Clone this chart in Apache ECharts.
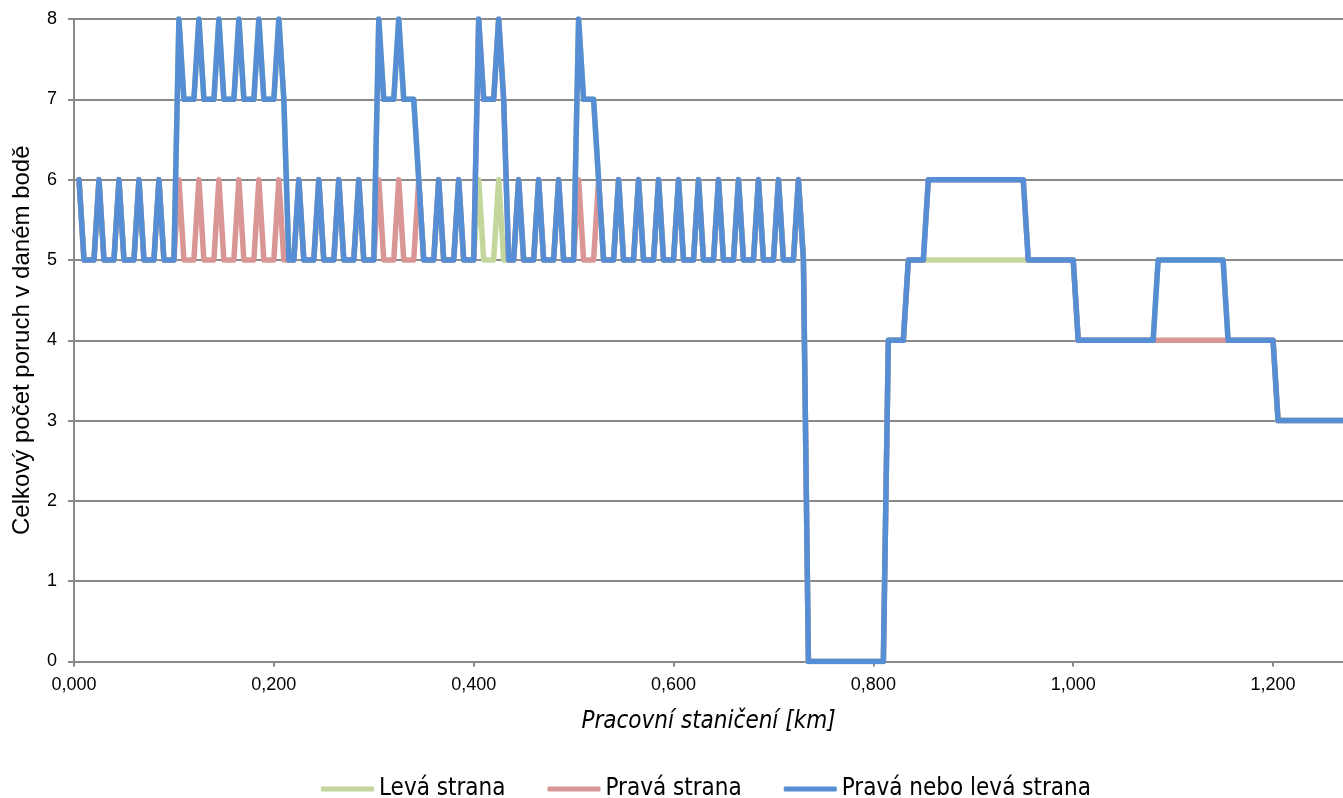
<!DOCTYPE html>
<html>
<head>
<meta charset="utf-8">
<script src="https://cdn.jsdelivr.net/npm/echarts@6/dist/echarts.min.js"></script>
<style>
html,body{margin:0;padding:0;background:#fff;}
#chart{width:1343px;height:798px;}
</style>
</head>
<body>
<div id="chart"></div>
<script>
// Working stationing [km]
const stations = [
0.005,0.010,0.015,0.020,0.025,0.030,0.035,0.040,0.045,0.050,
0.055,0.060,0.065,0.070,0.075,0.080,0.085,0.090,0.095,0.100,
0.105,0.110,0.115,0.120,0.125,0.130,0.135,0.140,0.145,0.150,
0.155,0.160,0.165,0.170,0.175,0.180,0.185,0.190,0.195,0.200,
0.205,0.210,0.215,0.220,0.225,0.230,0.235,0.240,0.245,0.250,
0.255,0.260,0.265,0.270,0.275,0.280,0.285,0.290,0.295,0.300,
0.305,0.310,0.315,0.320,0.325,0.330,0.335,0.340,0.345,0.350,
0.355,0.360,0.365,0.370,0.375,0.380,0.385,0.390,0.395,0.400,
0.405,0.410,0.415,0.420,0.425,0.430,0.435,0.440,0.445,0.450,
0.455,0.460,0.465,0.470,0.475,0.480,0.485,0.490,0.495,0.500,
0.505,0.510,0.515,0.520,0.525,0.530,0.535,0.540,0.545,0.550,
0.555,0.560,0.565,0.570,0.575,0.580,0.585,0.590,0.595,0.600,
0.605,0.610,0.615,0.620,0.625,0.630,0.635,0.640,0.645,0.650,
0.655,0.660,0.665,0.670,0.675,0.680,0.685,0.690,0.695,0.700,
0.705,0.710,0.715,0.720,0.725,0.730,0.735,0.740,0.745,0.750,
0.755,0.760,0.765,0.770,0.775,0.780,0.785,0.790,0.795,0.800,
0.805,0.810,0.815,0.820,0.825,0.830,0.835,0.840,0.845,0.850,
0.855,0.860,
0.950,0.955,1.000,1.005,1.080,1.085,1.150,1.155,1.200,1.205,1.270
];

// Levá strana (green)
const leftSide = [
6,5,5,5,6,5,5,5,6,5,
5,5,6,5,5,5,6,5,5,5,
8,7,7,7,8,7,7,7,8,7,
7,7,8,7,7,7,8,7,7,7,
8,7,5,5,6,5,5,5,6,5,
5,5,6,5,5,5,6,5,5,5,
8,7,7,7,8,7,7,7,6,5,
5,5,6,5,5,5,6,5,5,5,
6,5,5,5,6,5,5,5,6,5,
5,5,6,5,5,5,6,5,5,5,
8,7,7,7,6,5,5,5,6,5,
5,5,6,5,5,5,6,5,5,5,
6,5,5,5,6,5,5,5,6,5,
5,5,6,5,5,5,6,5,5,5,
6,5,5,5,6,5,0,0,0,0,
0,0,0,0,0,0,0,0,0,0,
0,0,4,4,4,4,5,5,5,5,
5,5,
5,5,5,4,4,5,5,4,4,3,3
];

// Pravá strana (red)
const rightSide = [
6,5,5,5,6,5,5,5,6,5,
5,5,6,5,5,5,6,5,5,5,
6,5,5,5,6,5,5,5,6,5,
5,5,6,5,5,5,6,5,5,5,
6,5,5,5,6,5,5,5,6,5,
5,5,6,5,5,5,6,5,5,5,
6,5,5,5,6,5,5,5,6,5,
5,5,6,5,5,5,6,5,5,5,
8,7,7,7,8,7,5,5,6,5,
5,5,6,5,5,5,6,5,5,5,
6,5,5,5,6,5,5,5,6,5,
5,5,6,5,5,5,6,5,5,5,
6,5,5,5,6,5,5,5,6,5,
5,5,6,5,5,5,6,5,5,5,
6,5,5,5,6,5,0,0,0,0,
0,0,0,0,0,0,0,0,0,0,
0,0,4,4,4,4,5,5,5,5,
6,6,
6,5,5,4,4,4,4,4,4,3,3
];

// Pravá nebo levá strana (blue)
const eitherSide = [
6,5,5,5,6,5,5,5,6,5,
5,5,6,5,5,5,6,5,5,5,
8,7,7,7,8,7,7,7,8,7,
7,7,8,7,7,7,8,7,7,7,
8,7,5,5,6,5,5,5,6,5,
5,5,6,5,5,5,6,5,5,5,
8,7,7,7,8,7,7,7,6,5,
5,5,6,5,5,5,6,5,5,5,
8,7,7,7,8,7,5,5,6,5,
5,5,6,5,5,5,6,5,5,5,
8,7,7,7,6,5,5,5,6,5,
5,5,6,5,5,5,6,5,5,5,
6,5,5,5,6,5,5,5,6,5,
5,5,6,5,5,5,6,5,5,5,
6,5,5,5,6,5,0,0,0,0,
0,0,0,0,0,0,0,0,0,0,
0,0,4,4,4,4,5,5,5,5,
6,6,
6,5,5,4,4,5,5,4,4,3,3
];

const seriesNames = ['Levá strana', 'Pravá strana', 'Pravá nebo levá strana'];
const seriesColors = ['#C3D69B', '#D99694', '#558ED5'];
const seriesValues = [leftSide, rightSide, eitherSide];

const xTitle = 'Pracovní staničení [km]';
const yTitle = 'Celkový počet poruch v daném bodě';

const narrowFont = "'Liberation Sans Narrow', 'DejaVu Sans Condensed', 'Liberation Sans', sans-serif";
const labelFont = "'Liberation Sans', Arial, sans-serif";
const gridGrey = '#898989';

const chart = echarts.init(document.getElementById('chart'), null, {renderer: 'canvas'});

chart.setOption({
  animation: false,
  backgroundColor: '#ffffff',
  grid: {left: 74, top: 19, right: 0, bottom: 136.5, containLabel: false, outerBoundsMode: 'none'},
  legend: {
    left: 316,
    top: 772,
    orient: 'horizontal',
    icon: 'roundRect',
    itemWidth: 53,
    itemHeight: 5,
    itemGap: 42,
    textStyle: {fontFamily: narrowFont, fontSize: 24, color: '#000'},
    data: seriesNames
  },
  xAxis: {
    type: 'value',
    min: 0,
    max: 1.27,
    interval: 0.2,
    name: xTitle,
    nameLocation: 'middle',
    nameGap: 48,
    nameTextStyle: {fontFamily: narrowFont, fontSize: 24, fontStyle: 'italic', color: '#000'},
    axisLine: {show: true, lineStyle: {color: gridGrey, width: 2}},
    axisTick: {show: true, inside: false, length: 5, lineStyle: {color: gridGrey, width: 2}},
    axisLabel: {
      show: true,
      margin: 15,
      fontFamily: labelFont,
      fontSize: 18,
      color: '#000',
      showMaxLabel: false,
      formatter: function (v) {
        const r = v / 0.2;
        if (Math.abs(r - Math.round(r)) > 1e-6) return '';
        return v.toFixed(3).replace('.', ',');
      }
    },
    splitLine: {show: false}
  },
  yAxis: {
    type: 'value',
    min: 0,
    max: 8,
    interval: 1,
    name: yTitle,
    nameLocation: 'middle',
    nameGap: 40,
    nameTextStyle: {fontFamily: labelFont, fontSize: 24, color: '#000'},
    axisLine: {show: true, lineStyle: {color: gridGrey, width: 2}},
    axisTick: {show: true, inside: false, length: 6, lineStyle: {color: gridGrey, width: 2}},
    axisLabel: {show: true, margin: 17, fontFamily: labelFont, fontSize: 18, color: '#000'},
    splitLine: {show: true, lineStyle: {color: gridGrey, width: 2}}
  },
  series: seriesNames.map(function (name, i) {
    return {
      name: name,
      type: 'line',
      symbol: 'none',
      showSymbol: false,
      clip: true,
      color: seriesColors[i],
      lineStyle: {color: seriesColors[i], width: 5.5, cap: 'round', join: 'round'},
      itemStyle: {color: seriesColors[i]},
      emphasis: {disabled: true},
      data: stations.map(function (s, k) { return [s, seriesValues[i][k]]; })
    };
  })
});
</script>
</body>
</html>
